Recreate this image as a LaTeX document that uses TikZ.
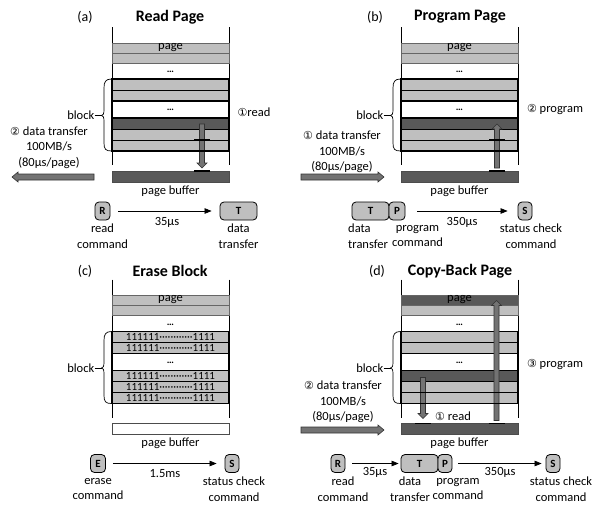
\documentclass[tikz,border=0pt]{standalone}
\usepackage{fontspec}
\setmainfont{Carlito}
\newfontfamily\symf{DejaVu Sans}
\usetikzlibrary{arrows.meta}
\definecolor{lg}{RGB}{191,191,191}
\definecolor{dg}{RGB}{89,89,89}
\definecolor{ag}{RGB}{115,115,115}
\tikzset{
  txt/.style={inner sep=0pt, font=\fontsize{12.5}{15.5}\selectfont},
  ttl/.style={inner sep=0pt, font=\bfseries\fontsize{16}{18}\selectfont},
  tag/.style={inner sep=0pt, font=\fontsize{14}{16}\selectfont},
  dotsn/.style={inner sep=0pt, anchor=base, font=\bfseries\fontsize{10}{12}\selectfont},
  ones/.style={inner sep=0pt, font=\fontsize{11}{12}\selectfont},
  vline/.style={line width=0.8pt, black},
  rowb/.style={line width=0.6pt, draw=black!60},
  innerl/.style={line width=0.8pt, black},
  thickb/.style={line width=1.5pt, black},
  blockb/.style={line width=1.8pt, black},
  barrow/.style={fill=ag, draw=black!80, line width=0.6pt},
  barmark/.style={line width=1.6pt, black},
  bracel/.style={line width=0.7pt, black},
  cmd/.style={draw=black, fill=lg, rounded corners=4pt, line width=0.8pt, minimum height=18pt, inner sep=0pt, font=\bfseries\fontsize{11}{13}\selectfont},
  conn/.style={-{Triangle[length=7pt,width=5.5pt]}, line width=0.7pt},
}
% column of pages: #1 top row, #2 selected row, #3 buffer, #4 prefix
\newcommand\flashcol[4]{%
  \draw[vline] (112,27) -- (112,165);
  \draw[vline] (229,27) -- (229,165);
  \draw[rowb, fill=#1] (112,43) rectangle (229,53);
  \node[txt] (#4page) at (170.5,47.5) {page};
  \draw[rowb, fill=lg] (112,53) rectangle (229,63);
  \node[dotsn] (#4dotsA) at (170.5,72.5) {…};
  \fill[lg] (112,79) rectangle (229,101);
  \draw[innerl] (112,90) -- (229,90);
  \node[dotsn] (#4dotsB) at (170.5,110.5) {…};
  \fill[#2] (112,118) rectangle (229,129);
  \fill[lg] (112,129) rectangle (229,151);
  \draw[innerl] (112,129) -- (229,129) (112,140) -- (229,140);
  \draw[thickb] (112,101) -- (229,101) (112,118) -- (229,118);
  \draw[blockb] (112,79) rectangle (229,151);
  \draw[rowb, fill=#3, draw=black!70] (112,171) rectangle (229,182);
  \node[txt] (#4buf) at (170.5,191) {page buffer};
  \draw[bracel] (111.5,79) .. controls (105.5,79) and (104,82) .. (104,88) -- (104,110)
     .. controls (104,114) and (103,115.5) .. (101.5,115.5)
     .. controls (103,115.5) and (104,117) .. (104,121) -- (104,143)
     .. controls (104,149) and (105.5,151) .. (111.5,151);
  \node[txt, anchor=east] (#4blk) at (94.5,115.5) {block};
  \coordinate (#4tip) at (101.5,115.5);
  \draw[bracel] (#4blk.east) -- (#4tip);
}
\newcommand\darrow[3]{\draw[barrow] ({#1-2.5},#2) -- ({#1+2.5},#2) -- ({#1+2.5},{#3-5}) -- ({#1+5},{#3-5}) -- (#1,#3) -- ({#1-5},{#3-5}) -- ({#1-2.5},{#3-5}) -- cycle;}
\newcommand\uarrow[3]{\draw[barrow] ({#1-2.5},#2) -- ({#1+2.5},#2) -- ({#1+2.5},{#3+5}) -- ({#1+5},{#3+5}) -- (#1,#3) -- ({#1-5},{#3+5}) -- ({#1-2.5},{#3+5}) -- cycle;}
\newcommand\rarrow[3]{\draw[barrow] (#2,{#1-3}) -- ({#3-6},{#1-3}) -- ({#3-6},{#1-5}) -- (#3,#1) -- ({#3-6},{#1+5}) -- ({#3-6},{#1+3}) -- (#2,{#1+3}) -- cycle;}
\newcommand\larrow[3]{\draw[barrow] (#2,{#1-3}) -- ({#3+6},{#1-3}) -- ({#3+6},{#1-5}) -- (#3,#1) -- ({#3+6},{#1+5}) -- ({#3+6},{#1+3}) -- (#2,{#1+3}) -- cycle;}
\newcommand\barmarks[1]{\draw[barmark] ({#1-8},140) -- ({#1+8},140) ({#1-8},151) -- ({#1+8},151) ({#1-8},171) -- ({#1+8},171);}
\begin{document}
\begin{tikzpicture}[x=1pt,y=-1pt]
\useasboundingbox (0,0) rectangle (595,504);
\fill[white] (0,0) rectangle (595,504);

% ---------------- (a) Read Page
\begin{scope}
\flashcol{lg}{dg}{dg}{a}
\node[tag] (atag) at (85,17) {(a)};
\node[ttl] (attl) at (170,17) {Read Page};
\darrow{202}{124}{168}
\barmarks{202}
\node[txt] (aread) at (254,112) {{\symf\fontsize{11}{13}\selectfont ①}read};
\node[txt, align=center] (adt) at (49,147.5) {{\symf\fontsize{11}{13}\selectfont ②} data transfer\\100MB/s\\(80µs/page)};
\larrow{177}{94}{12}
\node[cmd, minimum width=15pt] (aR) at (102.5,211) {R};
\node[cmd, minimum width=37pt] (aT) at (238.5,211) {T};
\draw[conn, shorten <=8pt, shorten >=8pt] (aR) -- (aT);
\node[txt] (a35) at (167,222) {35µs};
\node[txt, align=center] (aRl) at (102.5,236) {read\\command};
\node[txt, align=center] (aTl) at (238.5,236) {data\\transfer};
\end{scope}

% ---------------- (b) Program Page
\begin{scope}[shift={(289,0)}]
\flashcol{lg}{dg}{dg}{b}
\node[tag] (btag) at (86,17) {(b)};
\node[ttl] (bttl) at (171,17) {Program Page};
\uarrow{208}{168}{124}
\barmarks{208}
\node[txt] (bprog) at (266,110) {{\symf\fontsize{11}{13}\selectfont ②} program};
\node[txt, align=center] (bdt) at (53,152) {{\symf\fontsize{11}{13}\selectfont ①} data transfer\\100MB/s\\(80µs/page)};
\rarrow{177}{12}{95}
\node[cmd, minimum width=37pt] (bT) at (81.5,211) {T};
\node[cmd, minimum width=16pt] (bP) at (108,211) {P};
\node[cmd, minimum width=14pt] (bS) at (236,211) {S};
\draw[conn, shorten <=12pt, shorten >=10pt] (bP) -- (bS);
\node[txt] (b350) at (173,222) {350µs};
\node[txt, align=left, anchor=west] (bTl) at (59,236) {data\\transfer};
\node[txt, align=center] (bPl) at (128.5,236) {program\\command};
\node[txt, align=center] (bSl) at (242,236) {status check\\command};
\end{scope}

% ---------------- (c) Erase Block
\begin{scope}[shift={(0,252.5)}]
\flashcol{lg}{lg}{white}{c}
\node[tag] (ctag) at (85,18.5) {(c)};
\node[ttl] (cttl) at (170,18.5) {Erase Block};
\node[ones] (c1) at (170.5,84.5) {111111············1111};
\node[ones] (c2) at (170.5,95.5) {111111············1111};
\node[ones] (c3) at (170.5,123.5) {111111············1111};
\node[ones] (c4) at (170.5,134.5) {111111············1111};
\node[ones] (c5) at (170.5,145.5) {111111············1111};
\node[cmd, minimum width=15pt] (cE) at (98,211) {E};
\node[cmd, minimum width=14pt] (cS) at (232,211) {S};
\draw[conn, shorten <=7pt, shorten >=8pt] (cE) -- (cS);
\node[txt] (c15) at (165,221) {1.5ms};
\node[txt, align=center] (cEl) at (98,236.5) {erase\\command};
\node[txt, align=center] (cSl) at (234,236.5) {status check\\command};
\end{scope}

% ---------------- (d) Copy-Back Page
\begin{scope}[shift={(289,252.5)}]
\flashcol{dg}{dg}{dg}{d}
\node[tag] (dtag) at (88,18.5) {(d)};
\node[ttl] (dttl) at (171,18.5) {Copy-Back Page};
\uarrow{207.5}{168}{48}
\darrow{134}{125}{166}
\barmarks{207.5}
\barmarks{134}
\node[txt] (dread) at (164,163.5) {{\symf\fontsize{11}{13}\selectfont ①} read};
\node[txt] (dprog) at (266,112.5) {{\symf\fontsize{11}{13}\selectfont ③} program};
\node[txt, align=center] (ddt) at (54,149.5) {{\symf\fontsize{11}{13}\selectfont ②} data transfer\\100MB/s\\(80µs/page)};
\rarrow{177.5}{12}{95}
\node[cmd, minimum width=14pt] (dR) at (49,211) {R};
\node[cmd, minimum width=37pt] (dT) at (130.5,211) {T};
\node[cmd, minimum width=14pt] (dP) at (156,211) {P};
\node[cmd, minimum width=14pt] (dS) at (264,211) {S};
\draw[conn, shorten <=7pt, shorten >=2pt] (dR) -- (dT);
\draw[conn, shorten <=6pt, shorten >=4pt] (dP) -- (dS);
\node[txt] (d35) at (86,219.5) {35µs};
\node[txt] (d350) at (211,219.5) {350µs};
\node[txt, align=center] (dRl) at (54,236.5) {read\\command};
\node[txt, align=center] (dTl) at (121,236.5) {data\\transfer};
\node[txt, align=center] (dPl) at (169,236.5) {program\\command};
\node[txt, align=center] (dSl) at (272,236.5) {status check\\command};
\end{scope}
\end{tikzpicture}
\end{document}
